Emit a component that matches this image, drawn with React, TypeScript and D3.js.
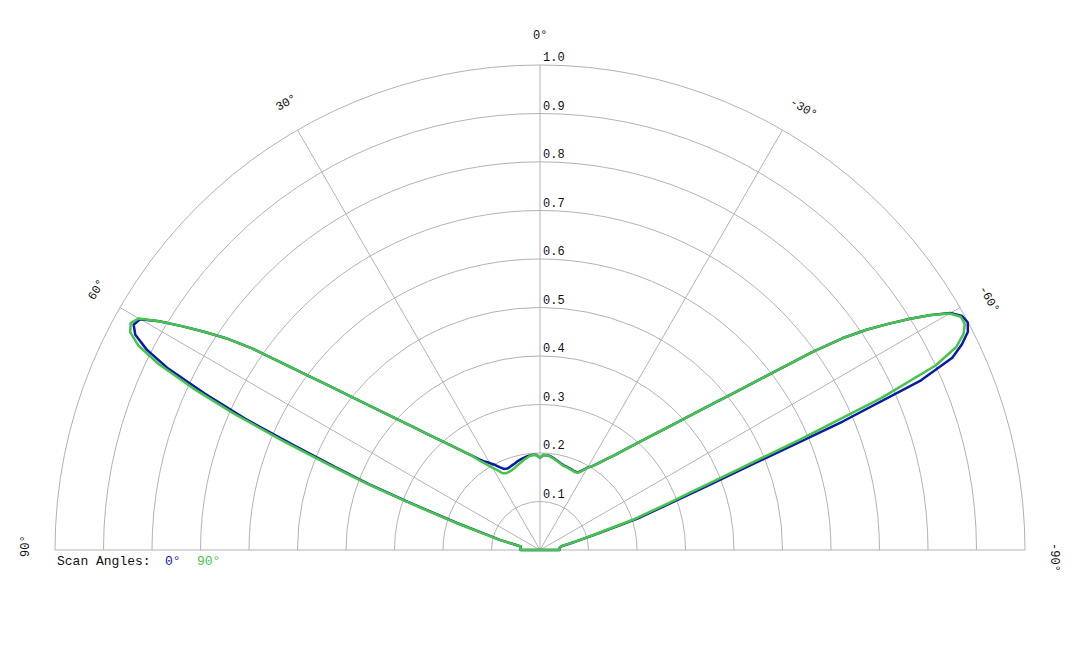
import * as d3 from "d3";
import { useEffect, useRef } from "react";

// polar pattern, angle in degrees (positive = left), normalised radius
const ANGLES = [
  -90, -85, -80, -78, -76, -74, -72, -70, -69, -68, -67, -66, -65, -64, -63, -62, -61, -60, -59, -58,
  -57, -56, -55, -54, -53, -52, -51, -50, -48, -46, -44, -42, -40, -38, -36, -34, -32, -30, -28, -26,
  -24, -22, -20, -18, -16, -14, -12, -10, -8, -6, -4, -2, 0,
  2, 4, 6, 8, 10, 12, 14, 16, 18, 20, 22, 24, 26, 28, 30, 32, 34, 36, 38, 40, 42, 44, 46, 48, 50,
  51, 52, 53, 54, 55, 56, 57, 58, 59, 60, 61, 62, 63, 64, 65, 66, 67, 68, 69, 70, 72, 74, 76, 78, 80,
  85, 90,
];

const SCAN_0 = [
  0.04, 0.04, 0.045, 0.06, 0.086, 0.127, 0.217, 0.302, 0.371, 0.479, 0.678, 0.86, 0.938, 0.968, 0.99, 0.999, 0.995, 0.977, 0.941, 0.9,
  0.856, 0.812, 0.761, 0.695, 0.622, 0.564, 0.515, 0.475, 0.411, 0.362, 0.324, 0.294, 0.269, 0.247, 0.231, 0.216, 0.204, 0.196, 0.186, 0.178,
  0.177, 0.178, 0.179, 0.18, 0.181, 0.183, 0.186, 0.189, 0.192, 0.195, 0.196, 0.196, 0.19,
  0.196, 0.197, 0.196, 0.195, 0.193, 0.191, 0.189, 0.186, 0.184, 0.182, 0.181, 0.183, 0.19, 0.199, 0.207, 0.215, 0.226, 0.241, 0.258, 0.278, 0.302, 0.331, 0.367, 0.411, 0.469,
  0.504, 0.546, 0.595, 0.654, 0.725, 0.781, 0.826, 0.871, 0.916, 0.952, 0.958, 0.945, 0.91, 0.853, 0.762, 0.666, 0.547, 0.453, 0.374, 0.29, 0.18, 0.113, 0.084, 0.05, 0.04,
  0.04, 0.04,
];

const SCAN_90 = [
  0.04, 0.04, 0.044, 0.058, 0.083, 0.12, 0.2, 0.28, 0.336, 0.425, 0.58, 0.77, 0.9, 0.955, 0.98, 0.992, 0.992, 0.975, 0.941, 0.9,
  0.856, 0.812, 0.761, 0.695, 0.622, 0.564, 0.515, 0.475, 0.411, 0.362, 0.324, 0.294, 0.269, 0.247, 0.231, 0.216, 0.204, 0.196, 0.185, 0.177,
  0.176, 0.177, 0.178, 0.179, 0.18, 0.182, 0.185, 0.188, 0.191, 0.194, 0.196, 0.196, 0.19,
  0.196, 0.197, 0.195, 0.192, 0.189, 0.185, 0.182, 0.179, 0.176, 0.174, 0.173, 0.173, 0.176, 0.186, 0.196, 0.208, 0.222, 0.241, 0.258, 0.278, 0.302, 0.331, 0.367, 0.411, 0.469,
  0.504, 0.546, 0.595, 0.654, 0.725, 0.781, 0.826, 0.871, 0.916, 0.955, 0.965, 0.957, 0.93, 0.875, 0.79, 0.69, 0.575, 0.47, 0.385, 0.3, 0.187, 0.117, 0.086, 0.051, 0.041,
  0.04, 0.04,
];

const RING_TICKS = [0.1, 0.2, 0.3, 0.4, 0.5, 0.6, 0.7, 0.8, 0.9, 1.0];
const SPOKE_ANGLES = [90, 60, 30, 0, -30, -60, -90];

const SERIES = [
  { name: "0\u00b0", values: SCAN_0, color: "#0b1aa6" },
  { name: "90\u00b0", values: SCAN_90, color: "#46c449" },
];

const FONT = "'Courier New', 'Liberation Mono', monospace";

export default function App() {
  const ref = useRef<SVGSVGElement>(null);

  useEffect(() => {
    if (!ref.current) return;
    const svg = d3.select(ref.current);
    svg.selectAll("*").remove();

    const cx = 540;
    const cy = 550;
    const R = 485;
    const r = d3.scaleLinear().domain([0, 1]).range([0, R]);
    const toRad = (deg: number) => (-deg * Math.PI) / 180;

    const g = svg.append("g").attr("transform", `translate(${cx},${cy})`);

    // rings
    RING_TICKS.forEach((t) => {
      const p = d3.path();
      p.arc(0, 0, r(t), Math.PI, 2 * Math.PI);
      g.append("path").attr("d", p.toString()).attr("fill", "none").attr("stroke", "#b3b3b3").attr("stroke-width", 1);
    });

    // spokes
    SPOKE_ANGLES.forEach((a) => {
      const t = toRad(a);
      g.append("line")
        .attr("x1", 0)
        .attr("y1", 0)
        .attr("x2", r(1) * Math.sin(t))
        .attr("y2", -r(1) * Math.cos(t))
        .attr("stroke", "#b3b3b3")
        .attr("stroke-width", 1);
    });

    // ring labels
    RING_TICKS.forEach((t) => {
      g.append("text")
        .attr("x", 3)
        .attr("y", -r(t) - 4)
        .attr("font-family", FONT)
        .attr("font-size", 12)
        .attr("fill", "#111")
        .text(t.toFixed(1));
    });

    // angle labels, tangential
    SPOKE_ANGLES.forEach((a) => {
      const t = toRad(a);
      const lr = R + 29;
      const x = lr * Math.sin(t);
      const y = -lr * Math.cos(t);
      g.append("text")
        .attr("transform", `translate(${x},${y}) rotate(${-a})`)
        .attr("x", -7)
        .attr("dominant-baseline", "middle")
        .attr("font-family", FONT)
        .attr("font-size", 12)
        .attr("fill", "#111")
        .text(`${a}\u00b0`);
    });

    // curves
    const line = d3
      .lineRadial<[number, number]>()
      .angle((d) => toRad(d[0]))
      .radius((d) => r(d[1]))
      .curve(d3.curveLinearClosed);

    SERIES.forEach((s) => {
      const pts: [number, number][] = ANGLES.map((a, i) => [a, s.values[i]]);
      g.append("path")
        .attr("d", line(pts) ?? "")
        .attr("fill", "none")
        .attr("stroke", s.color)
        .attr("stroke-width", 2.5)
        .attr("stroke-linejoin", "round");
    });

    // legend
    const legend = svg.append("text").attr("x", 57).attr("y", 565).attr("font-family", FONT).attr("font-size", 13);
    legend.append("tspan").attr("fill", "#111").text("Scan Angles:");
    SERIES.forEach((s, i) => {
      legend
        .append("tspan")
        .attr("x", i === 0 ? 165 : 197)
        .attr("fill", s.color)
        .text(s.name);
    });
  }, []);

  return (
    <svg
      ref={ref}
      width={1080}
      height={648}
      style={{ position: "absolute", left: 0, top: 0, background: "#fff" }}
    />
  );
}
